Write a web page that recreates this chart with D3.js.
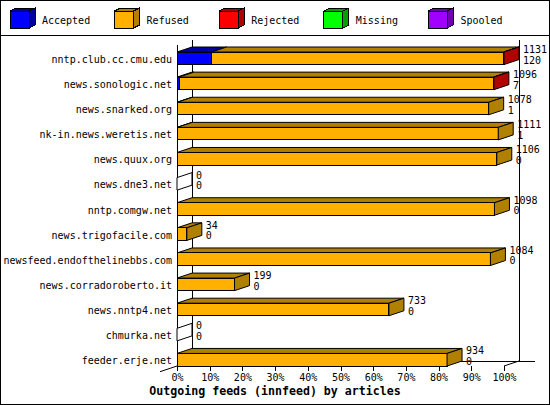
<!DOCTYPE html>
<html>
<head>
<meta charset="utf-8">
<script src="https://cdn.jsdelivr.net/npm/d3@7"></script>
<style>
  body { margin: 0; background: #fff; }
  svg { display: block; font-family: "DejaVu Sans Mono", monospace; }
  .lbl { font-size: 10px; fill: #000; }
</style>
</head>
<body>
<svg id="chart" width="550" height="405"></svg>
<script>
// outgoing innfeed peers, top to bottom
var feeds = ["nntp.club.cc.cmu.edu", "news.sonologic.net", "news.snarked.org",
    "nk-in.news.weretis.net", "news.quux.org", "news.dne3.net", "nntp.comgw.net",
    "news.trigofacile.com", "newsfeed.endofthelinebbs.com", "news.corradoroberto.it",
    "news.nntp4.net", "chmurka.net", "feeder.erje.net"];
var offered  = [1131, 1096, 1078, 1111, 1106, 0, 1098, 34, 1084, 199, 733, 0, 934];
var accepted = [120, 7, 1, 1, 0, 0, 0, 0, 0, 0, 0, 0, 0];
var refused  = [1010, 1088, 1077, 1110, 1106, 0, 1098, 34, 1084, 199, 733, 0, 934];
var rejected = [1, 1, 0, 0, 0, 0, 0, 0, 0, 0, 0, 0, 0];
var missing  = [0, 0, 0, 0, 0, 0, 0, 0, 0, 0, 0, 0, 0];
var spooled  = [0, 0, 0, 0, 0, 0, 0, 0, 0, 0, 0, 0, 0];

var seriesNames  = ["Accepted", "Refused", "Rejected", "Missing", "Spooled"];
var seriesColors = ["#0000ff", "#ffb000", "#ff0000", "#00ff00", "#a000ff"];
var seriesShades = ["#0000a0", "#b08000", "#b00000", "#00a000", "#7000b0"];
var pctTicks = [0, 10, 20, 30, 40, 50, 60, 70, 80, 90, 100];
var title = "Outgoing feeds (innfeed) by articles";

var W = 550, H = 405;
var dx = 15, dy = 5;          // depth of the 3d bars
var x0 = 177, x1 = 504;       // front plot edges
var yTop = 45, yBot = 366;

var svg = d3.select("#chart").attr("shape-rendering", "crispEdges");

svg.append("rect").attr("x", 0.5).attr("y", 0.5).attr("width", W - 1).attr("height", H - 1)
    .attr("fill", "#fff").attr("stroke", "#000");
svg.append("line").attr("x1", 0).attr("x2", W).attr("y1", 35.5).attr("y2", 35.5).attr("stroke", "#000");

// legend
var legendX = d3.scaleBand().domain(seriesNames).range([10, 533]);
var lg = svg.append("g");
seriesNames.forEach(function(name, i) {
    var bx = legendX(name), by = 11, bw = 19, bh = 17, ldx = 6, ldy = 3;
    lg.append("polygon")
        .attr("points", [[bx, by], [bx + ldx, by - ldy], [bx + bw + ldx, by - ldy], [bx + bw, by]].join(" "))
        .attr("fill", seriesShades[i]).attr("stroke", "#000");
    lg.append("polygon")
        .attr("points", [[bx + bw, by], [bx + bw + ldx, by - ldy], [bx + bw + ldx, by + bh - ldy], [bx + bw, by + bh]].join(" "))
        .attr("fill", seriesShades[i]).attr("stroke", "#000");
    lg.append("rect").attr("x", bx).attr("y", by).attr("width", bw).attr("height", bh)
        .attr("fill", seriesColors[i]).attr("stroke", "#000");
    lg.append("text").attr("class", "lbl").attr("x", bx + 32).attr("y", 24).text(name);
});

// scales
var x = d3.scaleLinear().domain([0, d3.max(offered)]).range([x0, x1]);
var xPct = d3.scaleLinear().domain([0, 100]).range([x0, x1]);
var y = d3.scaleBand().domain(feeds).range([52, yBot]).paddingInner(0.5).paddingOuter(0);

// back wall and floor
var frame = svg.append("g").attr("stroke", "#000").attr("fill", "none");
frame.append("line").attr("x1", x0 + dx + 0.5).attr("x2", x0 + dx + 0.5).attr("y1", yTop - dy).attr("y2", yBot - dy);
frame.append("line").attr("x1", x1 + dx + 0.5).attr("x2", x1 + dx + 0.5).attr("y1", yTop - dy).attr("y2", yBot - dy);
frame.append("line").attr("x1", x0 + dx).attr("x2", x1 + dx + 16).attr("y1", yBot - dy + 0.5).attr("y2", yBot - dy + 0.5);
frame.append("line").attr("x1", x0 - 17).attr("y1", yBot + 5.7).attr("x2", x0 + dx).attr("y2", yBot - dy)
    .attr("shape-rendering", "auto");
frame.append("line").attr("x1", x1).attr("y1", yBot).attr("x2", x1 + dx).attr("y2", yBot - dy)
    .attr("shape-rendering", "auto");
frame.append("line").attr("x1", x0 + 0.5).attr("x2", x0 + 0.5).attr("y1", yTop).attr("y2", yBot);

// stacked bars
var rows = feeds.map(function(f, i) {
    return { feed: f, Accepted: accepted[i], Refused: refused[i], Rejected: rejected[i],
             Missing: missing[i], Spooled: spooled[i] };
});
var stacked = d3.stack().keys(seriesNames)(rows);

var bars = svg.append("g").attr("stroke", "#000");
feeds.forEach(function(f, i) {
    var top = y(f), bot = top + y.bandwidth();
    var last = -1;
    stacked.forEach(function(layer, s) {
        var a = x(layer[i][0]), b = x(layer[i][1]);
        if (layer[i][1] - layer[i][0] <= 0) return;
        last = s;
        bars.append("polygon")
            .attr("points", [[a, top], [a + dx, top - dy], [b + dx, top - dy], [b, top]].join(" "))
            .attr("fill", seriesShades[s]).attr("shape-rendering", "auto");
        bars.append("rect").attr("x", a).attr("y", top).attr("width", b - a).attr("height", bot - top)
            .attr("fill", seriesColors[s]);
    });
    var xe = x(stacked[seriesNames.length - 1][i][1]);
    bars.append("polygon")
        .attr("points", [[xe, top], [xe + dx, top - dy], [xe + dx, bot - dy], [xe, bot]].join(" "))
        .attr("fill", last < 0 ? "#fff" : seriesShades[last]).attr("shape-rendering", "auto");

    svg.append("text").attr("class", "lbl").attr("x", xe + dx + 4).attr("y", top + 1).text(offered[i]);
    svg.append("text").attr("class", "lbl").attr("x", xe + dx + 4).attr("y", top + 11.5).text(accepted[i]);
});

// category labels
svg.append("g").selectAll("text").data(feeds).join("text")
    .attr("class", "lbl").attr("text-anchor", "end")
    .attr("x", 172).attr("y", function(d) { return y(d) + y.bandwidth() / 2 + 4.5; })
    .text(function(d) { return d; });

// percent axis
var axis = svg.append("g").attr("transform", "translate(0," + yBot + ")")
    .call(d3.axisBottom(xPct).tickValues(pctTicks).tickFormat(function(d) { return d + "%"; })
        .tickSize(5).tickPadding(3));
axis.select(".domain").remove();
axis.selectAll("line").attr("stroke", "#000");
axis.selectAll("text").attr("font-family", "DejaVu Sans Mono").attr("font-size", "10px").attr("fill", "#000");

svg.append("text").attr("x", W / 2).attr("y", 395).attr("text-anchor", "middle")
    .attr("font-weight", "bold").attr("font-size", "11.6px").text(title);
</script>
</body>
</html>
